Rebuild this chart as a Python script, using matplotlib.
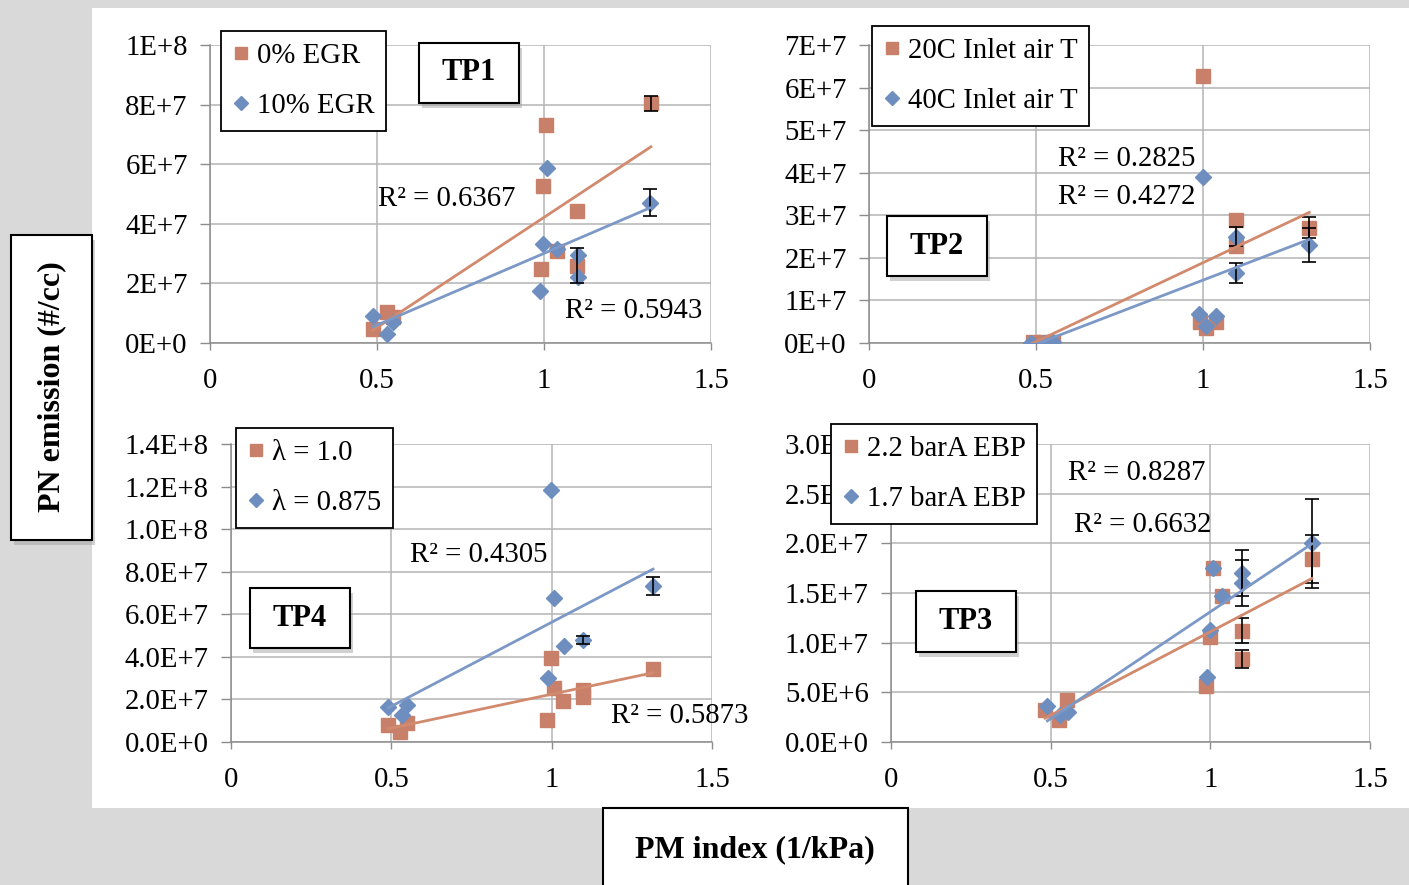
import numpy as np
import matplotlib.pyplot as plt
from matplotlib.patches import Rectangle
from matplotlib.lines import Line2D

plt.rcParams['font.family'] = ['Liberation Serif', 'DejaVu Serif']

W, H = 1409, 885

# ---- data ----
# TP1: 0% EGR (squares) / 10% EGR (diamonds)
tp1_xa = [0.488, 0.530, 0.548, 1.006, 0.997, 0.991, 1.039, 1.099, 1.099, 1.320]
tp1_ya = [4.7e6, 1.04e7, 8.7e6, 7.30e7, 5.27e7, 2.50e7, 3.10e7, 4.43e7, 2.60e7, 8.05e7]
tp1_ea = [0, 0, 0, 0, 0, 0, 0, 0, 5.9e6, 2.5e6]
tp1_xb = [0.489, 0.549, 0.531, 1.008, 0.998, 1.038, 1.101, 1.101, 0.988, 1.317]
tp1_yb = [9.0e6, 7.1e6, 2.9e6, 5.86e7, 3.31e7, 3.15e7, 2.95e7, 2.22e7, 1.74e7, 4.71e7]
tp1_eb = [0, 0, 0, 0, 0, 0, 0, 0, 0, 4.5e6]

# TP2: 20C / 40C inlet air T
tp2_xa = [0.490, 0.520, 0.550, 0.999, 1.099, 1.099, 1.318, 0.990, 1.010, 1.040]
tp2_ya = [2e5, 2e5, 2e5, 6.27e7, 2.90e7, 2.28e7, 2.71e7, 5.0e6, 3.6e6, 5.0e6]
tp2_ea = [0, 0, 0, 0, 0, 0, 2.5e6, 0, 0, 0]
tp2_xb = [0.485, 0.525, 0.552, 0.999, 1.099, 1.318, 1.099, 0.989, 1.010, 1.039]
tp2_yb = [1e5, 1e5, 2e5, 3.90e7, 2.50e7, 2.30e7, 1.64e7, 6.8e6, 4.1e6, 6.4e6]
tp2_eb = [0, 0, 0, 0, 2.2e6, 4.0e6, 2.3e6, 0, 0, 0]

# TP4: lambda = 1.0 / 0.875
tp4_xa = [0.490, 0.527, 0.550, 0.986, 0.997, 1.008, 1.036, 1.098, 1.098, 1.316]
tp4_ya = [8.0e6, 4.8e6, 8.8e6, 1.03e7, 3.93e7, 2.55e7, 1.94e7, 2.44e7, 2.13e7, 3.43e7]
tp4_ea = [0, 0, 0, 0, 0, 0, 0, 0, 0, 0]
tp4_xb = [0.490, 0.532, 0.550, 0.988, 0.997, 1.008, 1.039, 1.098, 1.316]
tp4_yb = [1.63e7, 1.27e7, 1.74e7, 3.02e7, 1.184e8, 6.75e7, 4.51e7, 4.79e7, 7.33e7]
tp4_eb = [0, 0, 0, 0, 0, 0, 0, 2.0e6, 4.3e6]

# TP3: 2.2 / 1.7 barA EBP
tp3_xa = [0.483, 0.527, 0.550, 0.985, 1.000, 1.009, 1.038, 1.098, 1.098, 1.318]
tp3_ya = [3.2e6, 2.2e6, 4.2e6, 5.6e6, 1.06e7, 1.75e7, 1.47e7, 1.12e7, 8.35e6, 1.84e7]
tp3_ea = [0, 0, 0, 0, 0, 0, 0, 1.25e6, 9e5, 2.4e6]
tp3_xb = [0.490, 0.530, 0.553, 0.990, 1.000, 1.009, 1.038, 1.100, 1.100, 1.318]
tp3_yb = [3.6e6, 2.7e6, 3.0e6, 6.5e6, 1.13e7, 1.75e7, 1.47e7, 1.70e7, 1.60e7, 2.00e7]
tp3_eb = [0, 0, 0, 0, 0, 0, 0, 2.3e6, 2.3e6, 4.5e6]

x_ticks = [0, 0.5, 1, 1.5]
x_tick_labels = ['0', '0.5', '1', '1.5']

ORANGE = '#C9806A'
BLUE = '#6E8EC0'
ORANGE_LINE = '#D28A6E'
BLUE_LINE = '#7C98C6'
GRID = '#b4b4b4'
AX = '#8c8c8c'
FS = 20.7


def fx(x):
    return x / W


def fy(y):
    return 1 - y / H


def sci(v, dec):
    if v == 0:
        return ('0.' + '0' * dec if dec else '0') + 'E+0'
    e = int(np.floor(np.log10(v) + 1e-9))
    return f'{v / 10 ** e:.{dec}f}E+{e}'


fig = plt.figure(figsize=(W / 100, H / 100), dpi=100)
fig.patch.set_facecolor('#d9d9d9')
fig.patches.append(Rectangle((fx(92), fy(808)), fx(1409 - 92), (808 - 8) / H,
                             transform=fig.transFigure, facecolor='white',
                             edgecolor='none', zorder=-5))


def panel(box, ymax, ystep, dec, xa, ya, ea, xb, yb, eb, labels, leg_xy):
    l, t, r, b = box
    ax = fig.add_axes([fx(l), fy(b), (r - l) / W, (b - t) / H])
    ax.set_facecolor('none')
    ax.set_xlim(0, 1.5)
    ax.set_ylim(0, ymax)
    yt = np.arange(0, ymax + ystep / 2, ystep)
    ax.set_yticks(yt, [sci(v, dec) for v in yt])
    ax.set_xticks(x_ticks, x_tick_labels)
    ax.grid(True, color=GRID, lw=1.1)
    ax.set_axisbelow(True)
    for s in ['top', 'right']:
        ax.spines[s].set_visible(False)
    for s in ['left', 'bottom']:
        ax.spines[s].set_color(AX)
        ax.spines[s].set_linewidth(1.1)
    ax.tick_params(axis='y', length=7, width=1, color=AX, pad=9, labelsize=FS)
    ax.tick_params(axis='x', length=5, width=1, color=AX, pad=13, labelsize=FS)

    for xs, ys, es, m, c, ms in [(xa, ya, ea, 's', ORANGE, 10.5), (xb, yb, eb, 'D', BLUE, 8.5)]:
        xs, ys, es = np.array(xs), np.array(ys), np.array(es)
        ax.plot(xs, ys, ls='none', marker=m, ms=ms, color=c, mec=c, zorder=3)
        k = es > 0
        if k.any():
            ax.errorbar(xs[k], ys[k], yerr=es[k], fmt='none', ecolor='black',
                        elinewidth=1.2, capsize=5, capthick=1.2, zorder=4)
    for xs, ys, c in [(xa, ya, ORANGE_LINE), (xb, yb, BLUE_LINE)]:
        p = np.polyfit(xs, ys, 1)
        xx = np.array([min(xs), max(xs)])
        ax.plot(xx, np.polyval(p, xx), color=c, lw=2, zorder=5)

    handles = [Line2D([], [], ls='none', marker='s', ms=9, color=ORANGE),
               Line2D([], [], ls='none', marker='D', ms=7, color=BLUE)]
    leg = ax.legend(handles, labels, loc='upper left',
                    bbox_to_anchor=(fx(leg_xy[0]), fy(leg_xy[1])),
                    bbox_transform=fig.transFigure, frameon=True, fancybox=False,
                    edgecolor='black', framealpha=1, borderaxespad=0,
                    borderpad=0.4, labelspacing=0.85, handlelength=0.6,
                    handletextpad=0.25, fontsize=FS)
    leg.get_frame().set_linewidth(1.3)
    leg.set_zorder(10)
    return ax


panel((210, 45, 711, 343), 1e8, 2e7, 0, tp1_xa, tp1_ya, tp1_ea, tp1_xb, tp1_yb, tp1_eb,
      ['0% EGR', '10% EGR'], (221, 31))
panel((869, 45, 1370, 343), 7e7, 1e7, 0, tp2_xa, tp2_ya, tp2_ea, tp2_xb, tp2_yb, tp2_eb,
      ['20C Inlet air T', '40C Inlet air T'], (872, 26))
panel((231, 444, 712, 742), 1.4e8, 2e7, 1, tp4_xa, tp4_ya, tp4_ea, tp4_xb, tp4_yb, tp4_eb,
      ['λ = 1.0', 'λ = 0.875'], (236, 428))
panel((891, 444, 1370, 742), 3e7, 5e6, 1, tp3_xa, tp3_ya, tp3_ea, tp3_xb, tp3_yb, tp3_eb,
      ['2.2 barA EBP', '1.7 barA EBP'], (831, 424))

# R² annotations
for txt, x, y in [('R² = 0.6367', 378, 199), ('R² = 0.5943', 565, 311),
                  ('R² = 0.2825', 1058, 159), ('R² = 0.4272', 1058, 197),
                  ('R² = 0.4305', 410, 555), ('R² = 0.5873', 611, 716),
                  ('R² = 0.8287', 1068, 473), ('R² = 0.6632', 1074, 525)]:
    fig.text(fx(x), fy(y), txt, fontsize=FS, ha='left', va='center', zorder=6)


def box(x0, y0, x1, y1, shadow=True):
    if shadow:
        fig.patches.append(Rectangle((fx(x0 + 3), fy(y1 + 5)), (x1 - x0) / W, (y1 - y0) / H,
                                     transform=fig.transFigure, facecolor='#9a9a9a',
                                     edgecolor='none', alpha=0.45, zorder=7))
    fig.patches.append(Rectangle((fx(x0), fy(y1)), (x1 - x0) / W, (y1 - y0) / H,
                                 transform=fig.transFigure, facecolor='white',
                                 edgecolor='black', lw=1.5, zorder=8))


for name, x0, y0, x1, y1 in [('TP1', 419, 43, 519, 103), ('TP2', 887, 216, 987, 276),
                             ('TP4', 250, 588, 350, 648), ('TP3', 916, 591, 1016, 652)]:
    box(x0, y0, x1, y1)
    fig.text(fx((x0 + x1) / 2), fy((y0 + y1) / 2), name, fontsize=22, fontweight='bold',
             ha='center', va='center', zorder=9)

box(11, 235, 92, 540)
fig.text(fx(52), fy(387), 'PN emission (#/cc)', fontsize=23, fontweight='bold',
         rotation=90, ha='center', va='center', zorder=9)

box(603, 808, 908, 895, shadow=False)
fig.text(fx(755), fy(850), 'PM index (1/kPa)', fontsize=23, fontweight='bold',
         ha='center', va='center', zorder=9)

fig.savefig('out.png', dpi=100)
